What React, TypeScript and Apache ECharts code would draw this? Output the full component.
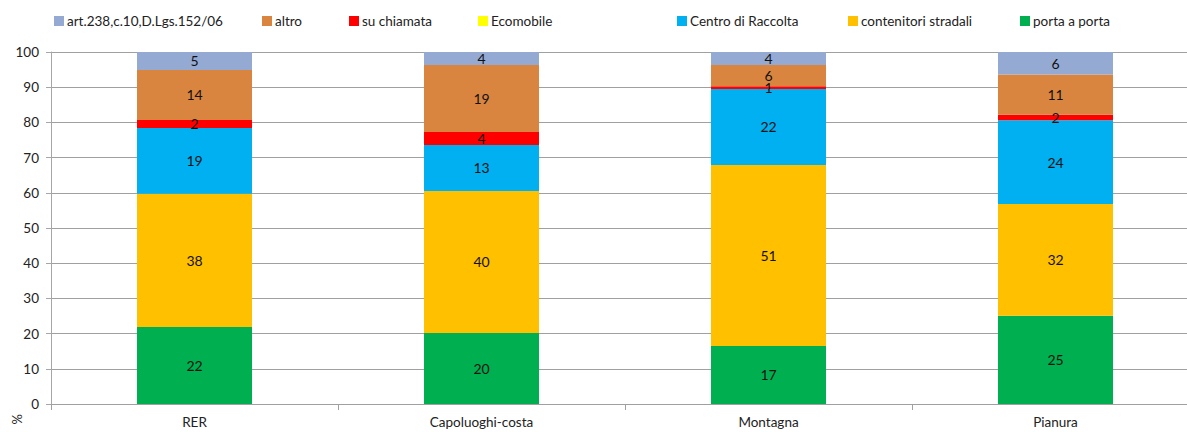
import React, { useEffect, useRef } from "react";
import * as echarts from "echarts";

const categories = ["RER", "Capoluoghi-costa", "Montagna", "Pianura"];
const portaAPorta = [21.9, 20.2, 16.5, 25.1];
const contenitoriStradali = [37.8, 40.3, 51.4, 31.7];
const centroDiRaccolta = [18.7, 13.1, 21.6, 23.8];
const ecomobile = [0, 0, 0, 0];
const suChiamata = [2.3, 3.7, 0.8, 1.6];
const altro = [14.2, 19.0, 6.0, 11.4];
const art238 = [5.1, 3.7, 3.7, 6.4];
const yTicks = [0, 10, 20, 30, 40, 50, 60, 70, 80, 90, 100];

const FONT = "Lato, 'Liberation Sans', sans-serif";

const seriesDefs = [
  { name: "porta a porta", data: portaAPorta, color: "#00B050" },
  { name: "contenitori stradali", data: contenitoriStradali, color: "#FFC000" },
  { name: "Centro di Raccolta", data: centroDiRaccolta, color: "#00B0F0" },
  { name: "Ecomobile", data: ecomobile, color: "#FFFF00" },
  { name: "su chiamata", data: suChiamata, color: "#FF0000" },
  { name: "altro", data: altro, color: "#D9843F" },
  { name: "art.238,c.10,D.Lgs.152/06", data: art238, color: "#95AAD3" },
];

const legendPos: Record<string, number> = {
  "art.238,c.10,D.Lgs.152/06": 54,
  altro: 262,
  "su chiamata": 349,
  Ecomobile: 478,
  "Centro di Raccolta": 677,
  "contenitori stradali": 848,
  "porta a porta": 1020,
};

export default function App() {
  const ref = useRef<HTMLDivElement>(null);
  useEffect(() => {
    if (!ref.current) return;
    const chart = echarts.init(ref.current, undefined, { renderer: "svg" });
    const legends = Object.keys(legendPos).map((name) => ({
      data: [name],
      left: legendPos[name],
      top: 14,
      itemWidth: 10,
      itemHeight: 10,
      itemGap: 0,
      padding: 0,
      icon: "rect",
      textStyle: { fontFamily: FONT, fontSize: 13.5, color: "#222", padding: [0, 0, 0, -2] },
      selectedMode: false,
    }));
    chart.setOption({
      animation: false,
      textStyle: { fontFamily: FONT },
      legend: legends,
      grid: { left: 51, right: 0, top: 52, bottom: 28, containLabel: false },
      xAxis: {
        type: "category",
        data: categories,
        axisLine: { lineStyle: { color: "#A0A0A0", width: 1 } },
        axisTick: { show: true, alignWithLabel: false, length: 6, lineStyle: { color: "#A0A0A0" } },
        axisLabel: { color: "#222", fontSize: 13.5, fontFamily: FONT, margin: 11 },
      },
      yAxis: {
        type: "value",
        min: 0,
        max: 100,
        interval: 10,
        axisLine: { show: true, lineStyle: { color: "#A6A6A6", width: 1 } },
        axisTick: { show: true, length: 5, lineStyle: { color: "#A6A6A6" } },
        axisLabel: {
          color: "#222",
          fontSize: 13.5,
          fontFamily: FONT,
          margin: 12,
          formatter: (v: number) => (yTicks.includes(v) ? String(v) : ""),
        },
        splitLine: { show: true, lineStyle: { color: "#A0A0A0", width: 1 } },
      },
      graphic: [
        {
          type: "text",
          left: 10,
          top: 414,
          rotation: Math.PI / 2,
          style: { text: "%", fontSize: 13, fontFamily: FONT, fill: "#222" },
        },
      ],
      series: seriesDefs.map((s) => ({
        name: s.name,
        type: "bar",
        stack: "total",
        barWidth: 115,
        data: s.data,
        itemStyle: { color: s.color },
        label: {
          show: true,
          position: "inside",
          color: "#111",
          fontSize: 14,
          fontFamily: FONT,
          formatter: (p: any) => (p.value > 0 ? String(Math.round(p.value)) : ""),
        },
      })),
    });
    return () => chart.dispose();
  }, []);
  return (
    <div
      style={{ position: "absolute", left: 0, top: 0, width: 1187, height: 432, overflow: "hidden" }}
    >
      <div ref={ref} style={{ position: "absolute", left: 0, top: 0, width: 1199, height: 432 }} />
    </div>
  );
}
